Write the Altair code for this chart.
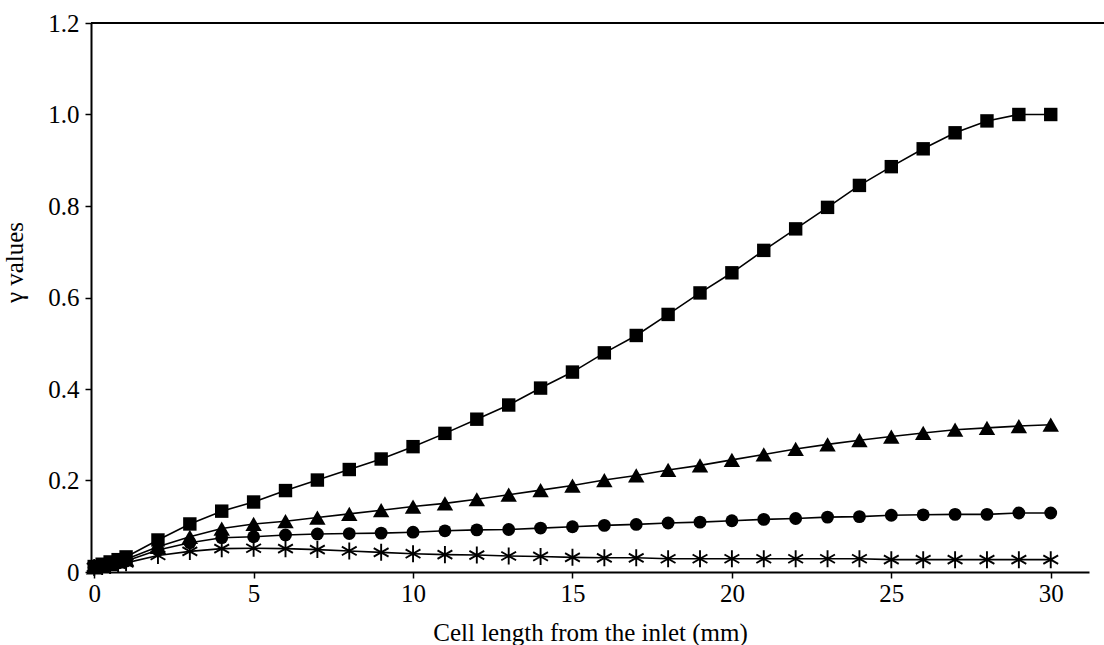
import altair as alt
import pandas as pd

x_vals = [0, 0.25, 0.5, 0.75, 1] + list(range(2, 31))

square_y = [0.012, 0.017, 0.022, 0.027, 0.033,
            0.070, 0.105, 0.133, 0.153, 0.178, 0.201, 0.224, 0.247, 0.274, 0.303,
            0.334, 0.365, 0.402, 0.437, 0.479, 0.517, 0.563, 0.610, 0.654, 0.703,
            0.750, 0.797, 0.845, 0.886, 0.925, 0.960, 0.986, 1.000, 1.000]

triangle_y = [0.010, 0.014, 0.018, 0.023, 0.028,
              0.055, 0.077, 0.095, 0.105, 0.111, 0.119, 0.127, 0.135, 0.143, 0.150,
              0.159, 0.169, 0.179, 0.189, 0.201, 0.211, 0.223, 0.233, 0.245, 0.257,
              0.269, 0.279, 0.288, 0.296, 0.304, 0.311, 0.315, 0.319, 0.322]

circle_y = [0.010, 0.013, 0.016, 0.020, 0.024,
            0.048, 0.064, 0.075, 0.077, 0.081, 0.083, 0.084, 0.085, 0.087, 0.090,
            0.092, 0.093, 0.096, 0.099, 0.102, 0.104, 0.107, 0.109, 0.112, 0.115,
            0.117, 0.120, 0.121, 0.124, 0.125, 0.126, 0.126, 0.129, 0.129]

asterisk_y = [0.010, 0.012, 0.014, 0.017, 0.020,
              0.036, 0.045, 0.051, 0.052, 0.051, 0.049, 0.046, 0.043, 0.040, 0.038,
              0.037, 0.035, 0.034, 0.032, 0.031, 0.031, 0.029, 0.029, 0.029, 0.029,
              0.029, 0.029, 0.029, 0.027, 0.027, 0.027, 0.027, 0.027, 0.027]

series = {"square": square_y, "triangle": triangle_y, "circle": circle_y, "asterisk": asterisk_y}
rows = []
for name, ys in series.items():
    for xv, yv in zip(x_vals, ys):
        rows.append({"series": name, "x": xv, "y": yv})
df = pd.DataFrame(rows)

x_ticks = [0, 5, 10, 15, 20, 25, 30]
y_ticks = [0, 0.2, 0.4, 0.6, 0.8, 1.0, 1.2]

W, H = 998, 549
FONT = "Liberation Serif"

x_enc = alt.X("x:Q",
              scale=alt.Scale(domain=[-0.1, 31.2], nice=False, zero=False),
              axis=alt.Axis(values=x_ticks, title="Cell length from the inlet (mm)",
                            labelPadding=3, tickSize=6, titleY=60, titleBaseline="middle"))
y_enc = alt.Y("y:Q",
              scale=alt.Scale(domain=[0, 1.2], nice=False),
              axis=alt.Axis(values=y_ticks, title="γ values",
                            labelExpr="datum.value == 0 ? '0' : format(datum.value, '.1f')",
                            labelPadding=6, tickSize=6, titleX=-77, titleY=239,
                            titleBaseline="middle", titleAlign="center"))

base = alt.Chart(df)

lines = base.mark_line(color="black", strokeWidth=1.6).encode(x=x_enc, y=y_enc, detail="series:N")

squares = base.transform_filter(alt.datum.series == "square").mark_point(
    shape="square", filled=True, color="black", size=180, opacity=1).encode(x=x_enc, y=y_enc)
triangles = base.transform_filter(alt.datum.series == "triangle").mark_point(
    shape="triangle-up", filled=True, color="black", size=270, opacity=1).encode(x=x_enc, y=y_enc)
circles = base.transform_filter(alt.datum.series == "circle").mark_point(
    shape="circle", filled=True, color="black", size=165, opacity=1).encode(x=x_enc, y=y_enc)
asterisks = base.transform_filter(alt.datum.series == "asterisk").mark_point(
    shape="M0,-1L0,1M-0.87,-0.5L0.87,0.5M-0.87,0.5L0.87,-0.5",
    filled=False, color="black", strokeWidth=1.9, size=290, opacity=1).encode(x=x_enc, y=y_enc)

top_line = alt.Chart(pd.DataFrame({"a": [0]})).mark_rule(color="black", strokeWidth=2.2).encode(
    x=alt.value(0), x2=alt.value(1013), y=alt.value(0))

chart = alt.layer(lines, squares, triangles, circles, asterisks, top_line).properties(
    width=W, height=H,
    autosize=alt.AutoSizeParams(type="none"),
    padding={"left": 91, "top": 23, "right": 15, "bottom": 73},
).configure_view(stroke=None).configure_axis(
    grid=False, domainColor="black", domainWidth=2, tickColor="black", tickWidth=1.5,
    labelFont=FONT, labelFontSize=25, labelColor="black",
    titleFont=FONT, titleFontSize=25, titleFontWeight="normal", titleColor="black",
)

chart.save("out.html", embed_options={"renderer": "svg", "actions": False})
